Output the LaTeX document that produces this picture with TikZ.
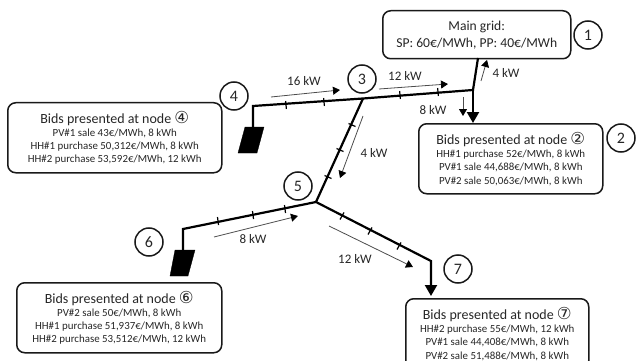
\documentclass[tikz,border=0pt]{standalone}
\usepackage{fontspec}
\setmainfont{Carlito}
\newfontfamily\symfont{DejaVu Sans}
\usetikzlibrary{arrows.meta}
\newcommand{\cnum}[1]{{\symfont\fontsize{16.5}{14}\selectfont #1}}
\tikzset{
  bidbox/.style={draw=black!90,line width=1.5pt,rounded corners=8pt,align=center,text=black!85,minimum height=70pt,inner sep=0pt,anchor=north west,font=\fontsize{10.9}{13.3}\selectfont},
  gridbox/.style={draw=black!90,line width=1.5pt,rounded corners=8pt,align=center,text=black!85,minimum height=48pt,inner sep=0pt,anchor=north west,font=\fontsize{13.6}{17}\selectfont},
  numcircle/.style={draw=black!90,line width=1.5pt,circle,minimum size=28pt,inner sep=0pt,text=black!85,font=\fontsize{16}{16}\selectfont},
  bus/.style={draw=black,line width=2.2pt},
  busend/.style={bus,-{Triangle[length=11pt,width=12pt]}},
  tick/.style={draw=black,line width=1.2pt},
  flow/.style={draw=black!70,line width=0.8pt,-{Triangle[length=7pt,width=8pt,fill=black,color=black]}},
  kw/.style={text=black!85,inner sep=0pt,font=\fontsize{13}{13}\selectfont},
  panel/.style={fill=black,draw=black,line width=0.3pt}
}
\newcommand{\bt}[1]{{\fontsize{14}{14}\selectfont Bids presented at node \cnum{#1}}}
\begin{document}
\begin{tikzpicture}[x=1pt,y=-1pt]
\useasboundingbox (0,0) rectangle (643,361);
\clip (0,0) rectangle (643,361);
% boxes
\node[gridbox,minimum width=188pt] (grid) at (382,10) {Main grid:\\SP: 60€/MWh, PP: 40€/MWh};
\node[bidbox,minimum width=184pt] (box2) at (418,123) {\bt{②}\\HH\#1 purchase 52€/MWh, 8 kWh\\PV\#1 sale 44,688€/MWh, 8 kWh\\PV\#2 sale 50,063€/MWh, 8 kWh};
\node[bidbox,minimum width=214pt] (box4) at (7,102) {\bt{④}\\PV\#1 sale 43€/MWh, 8 kWh\\HH\#1 purchase 50,312€/MWh, 8 kWh\\HH\#2 purchase 53,592€/MWh, 12 kWh};
\node[bidbox,minimum width=205pt] (box6) at (16,282) {\bt{⑥}\\PV\#2 sale 50€/MWh, 8 kWh\\HH\#1 purchase 51,937€/MWh, 8 kWh\\HH\#2 purchase 53,512€/MWh, 12 kWh};
\node[bidbox,minimum width=183pt] (box7) at (405,298) {\bt{⑦}\\HH\#2 purchase 55€/MWh, 12 kWh\\PV\#1 sale 44,408€/MWh, 8 kWh\\PV\#2 sale 51,488€/MWh, 8 kWh};
% number circles
\node[numcircle] (n1) at (588,35) {1};
\node[numcircle] (n2) at (621,138) {2};
\node[numcircle] (n3) at (362,79) {3};
\node[numcircle] (n4) at (234,96) {4};
\node[numcircle] (n5) at (298,186) {5};
\node[numcircle] (n6) at (149,242) {6};
\node[numcircle] (n7) at (458,269) {7};
% network points
\coordinate (j4) at (253,106);
\coordinate (j3) at (363,98.5);
\coordinate (j2) at (473,90);
\coordinate (j5) at (316,202);
\coordinate (j6) at (183,229);
\coordinate (j7) at (431,261);
\coordinate (p4) at (253,127);
\coordinate (p6) at (183,250);
\coordinate (g1) at (478,58);
\coordinate (b2) at (473,123);
\coordinate (b7) at (431,296);
% panels
\fill[panel] (245,127) -- (264,127) -- (257,153) -- (238,153) -- cycle;
\fill[panel] (175,250) -- (195,250) -- (188,276) -- (170,276) -- cycle;
% lines
\draw[bus,line join=miter] (p4) -- (j4) -- (j3) -- (j2) -- (g1);
\draw[busend] (j2) -- (b2);
\draw[bus] (j3) -- (j5);
\draw[bus,line join=miter] (j5) -- (j6) -- (p6);
\draw[busend,line join=miter] (j5) -- (j7) -- (b7);
% ticks
\draw[tick] (285.6,101) -- (286.4,109);
\draw[tick] (323.6,98) -- (324.4,106);
\draw[tick] (399.6,91) -- (400.4,99);
\draw[tick] (437.6,88) -- (438.4,96);
\draw[tick] (348.5,123.5) -- (355.5,126.5);
\draw[tick] (336.5,148.5) -- (343.5,151.5);
\draw[tick] (324.5,175.5) -- (331.5,178.5);
\draw[tick] (217.5,217) -- (218.5,225);
\draw[tick] (252.5,211) -- (253.5,219);
\draw[tick] (284.5,205) -- (285.5,213);
\draw[tick] (344,212.5) -- (340,219.5);
\draw[tick] (372,227.5) -- (368,234.5);
\draw[tick] (401,242.5) -- (397,249.5);
% flows
\coordinate (f1a) at (271,97); \coordinate (f1b) at (340,90);
\coordinate (f2a) at (379,89); \coordinate (f2b) at (448,84);
\coordinate (f3a) at (481,81); \coordinate (f3b) at (487,60);
\coordinate (f4a) at (463,97); \coordinate (f4b) at (463,116);
\coordinate (f5a) at (363,116); \coordinate (f5b) at (340,178);
\coordinate (f6a) at (214,237); \coordinate (f6b) at (298,216);
\coordinate (f7a) at (329,226); \coordinate (f7b) at (413,267);
\draw[flow] (f1a) -- (f1b);
\draw[flow] (f2a) -- (f2b);
\draw[flow] (f3a) -- (f3b);
\draw[flow] (f4a) -- (f4b);
\draw[flow] (f5a) -- (f5b);
\draw[flow] (f6a) -- (f6b);
\draw[flow] (f7a) -- (f7b);
% labels
\node[kw] (l1) at (304,81) {16 kW};
\node[kw] (l2) at (405,76) {12 kW};
\node[kw] (l3) at (506,73) {4 kW};
\node[kw] (l4) at (433,110) {8 kW};
\node[kw] (l5) at (374,153) {4 kW};
\node[kw] (l6) at (253,239) {8 kW};
\node[kw] (l7) at (355,259) {12 kW};
\end{tikzpicture}
\end{document}
